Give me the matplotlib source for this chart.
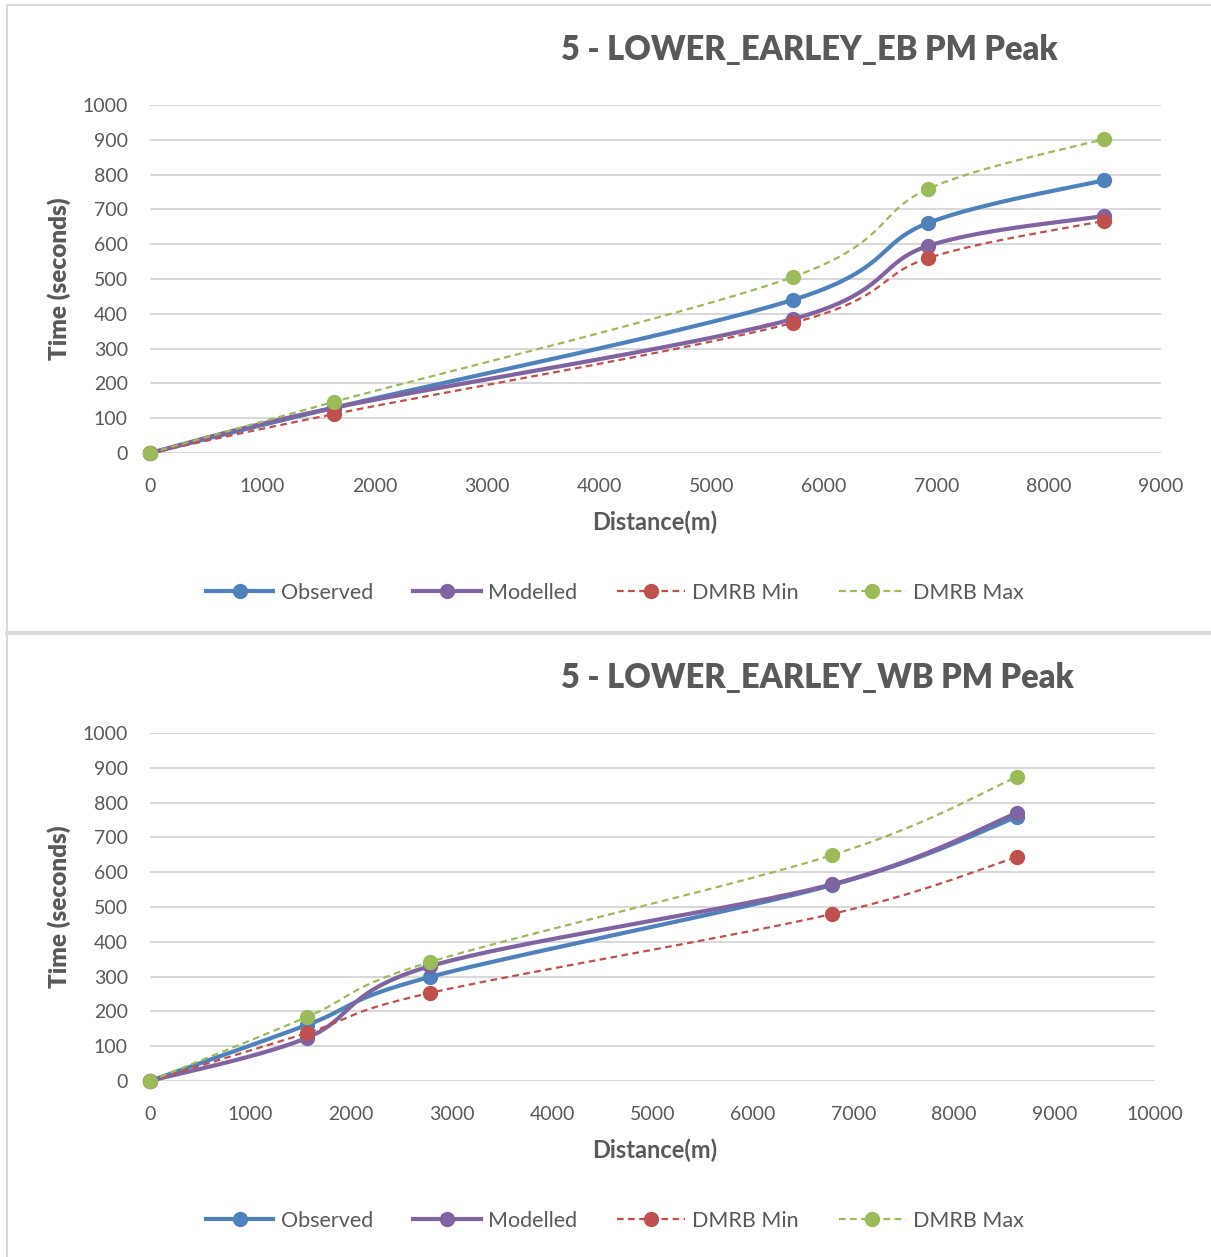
import numpy as np
import matplotlib
matplotlib.use("Agg")
import matplotlib.pyplot as plt
from matplotlib.lines import Line2D

plt.rcParams['font.family'] = ['Lato', 'DejaVu Sans']

# Eastbound journey
eb_dist = [0, 1638, 5724, 6926, 8493]
eb_observed = [0, 130, 440, 661, 784]
eb_modelled = [0, 130, 385, 595, 681]
eb_dmrb_min = [0, 112, 374, 560, 667]
eb_dmrb_max = [0, 147, 506, 759, 902]

# Westbound journey
wb_dist = [0, 1562, 2786, 6786, 8627]
wb_observed = [0, 161, 299, 563, 759]
wb_modelled = [0, 124, 330, 565, 770]
wb_dmrb_min = [0, 138, 253, 480, 644]
wb_dmrb_max = [0, 184, 342, 649, 874]

series_names = ["Observed", "Modelled", "DMRB Min", "DMRB Max"]
colors = ["#4F81BD", "#8064A2", "#C0504D", "#9BBB59"]
styles = [dict(ls="-", lw=3.0), dict(ls="-", lw=3.0),
          dict(ls=(0, (3, 2)), lw=1.6), dict(ls=(0, (3, 2)), lw=1.6)]

TXT = "#595959"
GRID = "#D9D9D9"


def smooth(x, y, n=40):
    """Piecewise cubic Bezier through the points (Catmull-Rom style)."""
    pts = np.column_stack([x, y]).astype(float)
    ext = np.vstack([pts[0], pts, pts[-1]])
    out = []
    t = np.linspace(0, 1, n)[:, None]
    for i in range(len(pts) - 1):
        p0, p1, p2, p3 = ext[i], ext[i + 1], ext[i + 2], ext[i + 3]
        c1 = p1 + (p2 - p0) / 6.0
        c2 = p2 - (p3 - p1) / 6.0
        seg = ((1 - t) ** 3) * p1 + 3 * ((1 - t) ** 2) * t * c1 \
            + 3 * (1 - t) * (t ** 2) * c2 + (t ** 3) * p2
        out.append(seg if i == 0 else seg[1:])
    c = np.vstack(out)
    return c[:, 0], c[:, 1]


W, H = 1211, 1257
fig = plt.figure(figsize=(W / 100, H / 100), dpi=100)


def px_rect(left, top, right, bottom):
    return [left / W, 1 - bottom / H, (right - left) / W, (bottom - top) / H]


def draw_panel(ax, dist, series, title, xmax, title_x, title_y, xlabel_y, legend_y):
    for vals, col, st in zip(series, colors, styles):
        sx, sy = smooth(dist, vals)
        ax.plot(sx, sy, color=col, solid_capstyle="round", **st, zorder=3,
                clip_on=False)
        ax.plot(dist, vals, ls="none", marker="o", ms=10, color=col,
                mec=col, zorder=4, clip_on=False)
    ax.set_xlim(0, xmax)
    ax.set_ylim(0, 1000)
    ax.set_xticks(np.arange(0, xmax + 1, 1000))
    ax.set_yticks(np.arange(0, 1001, 100))
    ax.grid(axis="y", color=GRID, lw=1.5)
    ax.set_axisbelow(True)
    for s in ax.spines.values():
        s.set_visible(False)
    ax.tick_params(length=0, labelsize=14, labelcolor=TXT)
    ax.tick_params(axis="y", pad=16)
    ax.tick_params(axis="x", pad=18)
    ax.set_ylabel("Time (seconds)", fontsize=17.5, fontweight="heavy",
                  color=TXT, labelpad=8)
    fig.text(655 / W, 1 - xlabel_y / H, "Distance(m)", fontsize=17,
             fontweight="bold", color=TXT, ha="center", va="center")
    fig.text(title_x / W, 1 - title_y / H, title, fontsize=23.5,
             fontweight="heavy", color=TXT, ha="center", va="center")
    handles = [Line2D([], [], color=c, marker="o", ms=10, **st)
               for c, st in zip(colors, styles)]
    fig.legend(handles, series_names, loc="center",
               bbox_to_anchor=(615 / W, 1 - legend_y / H), ncol=4,
               frameon=False, fontsize=15.5, handlelength=3.15,
               handletextpad=0.33, columnspacing=1.86, labelcolor=TXT)


ax1 = fig.add_axes(px_rect(150, 105, 1161, 453))
draw_panel(ax1, eb_dist, [eb_observed, eb_modelled, eb_dmrb_min, eb_dmrb_max],
           "5 - LOWER_EARLEY_EB PM Peak", 9000, 809, 50, 522, 593)

ax2 = fig.add_axes(px_rect(150, 733, 1155, 1081))
draw_panel(ax2, wb_dist, [wb_observed, wb_modelled, wb_dmrb_min, wb_dmrb_max],
           "5 - LOWER_EARLEY_WB PM Peak", 10000, 817, 678, 1150, 1221)

# chart-area borders
border = dict(color=GRID, transform=fig.transFigure, zorder=0)
fig.add_artist(Line2D([7 / W, 7 / W], [1 - 5 / H, 0], lw=1.5, **border))
fig.add_artist(Line2D([7 / W, 1], [1 - 5 / H, 1 - 5 / H], lw=1.5, **border))
fig.add_artist(Line2D([7 / W, 1], [1 - 633 / H, 1 - 633 / H], lw=3, **border))

fig.savefig("out.png", dpi=100)
